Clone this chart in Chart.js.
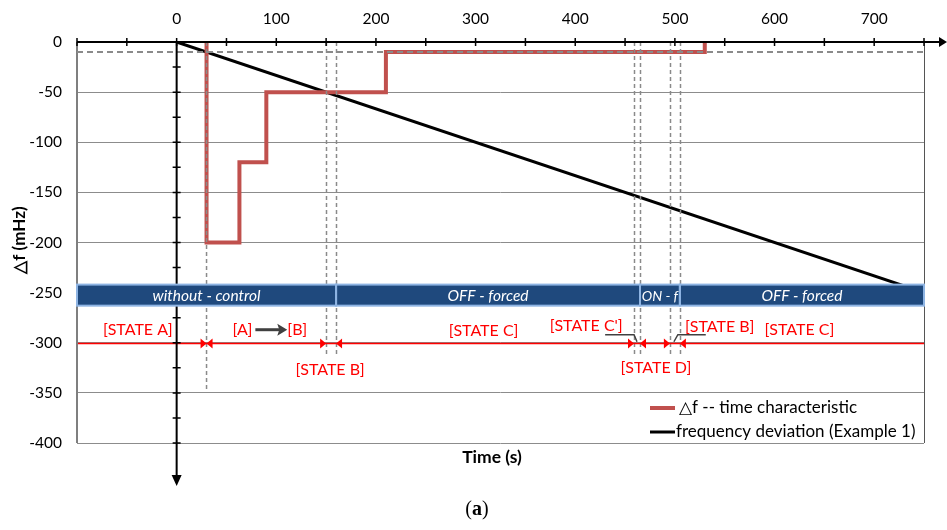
<!DOCTYPE html>
<html>
<head>
  <meta charset="UTF-8" />
  <title>Frequency deviation</title>
  <script src="https://cdn.jsdelivr.net/npm/chart.js"></script>
  <style>
    body { margin: 0; background: #fff; }
    #wrap { width: 947px; height: 530px; }
  </style>
</head>
<body>
  <div id="wrap"><canvas id="chart" width="947" height="530"></canvas></div>

  <script>
    // step characteristic (stepped 'before': horizontal first, then vertical)
    const stepTime = [30, 30, 63, 90, 210, 530];
    const stepDf = [0, -200, -120, -50, -10, 0];

    // frequency deviation, Example 1
    const devTime = [0, 750];
    const devDf = [0, -250];

    const timeTicks = [0, 100, 200, 300, 400, 500, 600, 700];
    const dfTicks = [0, -50, -100, -150, -200, -250, -300, -350, -400];

    // mode bar
    const modeNames = ['without - control', 'OFF - forced', 'ON - f', 'OFF - forced'];
    const modeStart = [-100, 160, 465, 505];
    const modeEnd = [160, 465, 505, 750];

    // state boundaries (dashed) and arrow heads on the -300 line
    const boundaryTime = [150, 160, 459, 465, 495, 505];
    const arrowToRight = [30, 150, 459, 495];
    const arrowToLeft = [30, 160, 465, 505];

    const stateNames = ['[STATE A]', '[A]', '[B]', '[STATE B]', '[STATE C]', "[STATE C']", '[STATE D]', '[STATE B]', '[STATE C]'];
    const stateTime = [-39, 66, 121, 154, 308, 411, 481, 545, 625];
    const stateDf = [-287, -287, -287, -327, -288, -283, -325, -284, -287];

    const redColor = '#C0504D';
    const stateRed = '#FF0000';

    const decorations = {
      id: 'decorations',
      afterDatasetsDraw(chart) {
        const ctx = chart.ctx;
        const xs = chart.scales.x;
        const ys = chart.scales.y;
        const X = v => xs.getPixelForValue(v);
        const Y = v => ys.getPixelForValue(v);
        const area = chart.chartArea;

        ctx.save();

        // plot border
        ctx.strokeStyle = '#7f7f7f';
        ctx.lineWidth = 2;
        ctx.beginPath();
        ctx.moveTo(area.left, area.top);
        ctx.lineTo(area.left, area.bottom);
        ctx.stroke();
        ctx.strokeStyle = '#555';
        ctx.lineWidth = 1;
        ctx.beginPath();
        ctx.moveTo(area.right + 0.5, area.top);
        ctx.lineTo(area.right + 0.5, area.bottom);
        ctx.stroke();

        // dashed -10 line
        ctx.strokeStyle = '#8a8a8a';
        ctx.lineWidth = 2;
        ctx.setLineDash([6, 4]);
        ctx.beginPath();
        ctx.moveTo(area.left, Y(-10));
        ctx.lineTo(area.right, Y(-10));
        ctx.stroke();

        // vertical dashed boundaries
        ctx.lineWidth = 1.5;
        ctx.setLineDash([4, 3]);
        ctx.beginPath();
        ctx.moveTo(X(30), Y(0));
        ctx.lineTo(X(30), Y(-348));
        boundaryTime.forEach(t => {
          ctx.moveTo(Math.round(X(t)) + 0.5, Y(0));
          ctx.lineTo(Math.round(X(t)) + 0.5, Y(-314));
        });
        ctx.stroke();
        ctx.setLineDash([]);

        // red state line at -300 (covers the grid line)
        ctx.strokeStyle = stateRed;
        ctx.lineWidth = 1.5;
        ctx.beginPath();
        ctx.moveTo(area.left + 1, Math.round(Y(-300)) + 0.5);
        ctx.lineTo(area.right, Math.round(Y(-300)) + 0.5);
        ctx.stroke();

        // black axes
        ctx.strokeStyle = '#000';
        ctx.fillStyle = '#000';
        ctx.lineWidth = 2;
        const y0 = Y(0);
        const x0 = X(0);
        ctx.beginPath();
        ctx.moveTo(area.left, y0);
        ctx.lineTo(940, y0);
        ctx.moveTo(x0, y0);
        ctx.lineTo(x0, 476);
        ctx.stroke();
        ctx.lineWidth = 1.5;
        ctx.beginPath();
        for (let t = -100; t <= 750; t += 50) {
          ctx.moveTo(X(t), y0 - 4);
          ctx.lineTo(X(t), y0 + 4);
        }
        for (let d = -25; d >= -400; d -= 25) {
          ctx.moveTo(x0 - 4, Y(d));
          ctx.lineTo(x0 + 4, Y(d));
        }
        ctx.stroke();
        ctx.beginPath();
        ctx.moveTo(947, y0);
        ctx.lineTo(939, y0 - 5);
        ctx.lineTo(939, y0 + 5);
        ctx.closePath();
        ctx.fill();
        ctx.beginPath();
        ctx.moveTo(x0, 486);
        ctx.lineTo(x0 - 5, 475);
        ctx.lineTo(x0 + 5, 475);
        ctx.closePath();
        ctx.fill();

        // mode bar
        const barTop = Y(-242);
        const barBottom = Y(-263);
        ctx.fillStyle = '#1F497D';
        ctx.fillRect(area.left, barTop, area.right - area.left, barBottom - barTop);
        ctx.strokeStyle = '#8EB4E3';
        ctx.lineWidth = 2;
        modeNames.forEach((name, i) => {
          ctx.strokeRect(X(modeStart[i]), barTop, X(modeEnd[i]) - X(modeStart[i]), barBottom - barTop);
        });
        ctx.fillStyle = '#fff';
        ctx.textAlign = 'center';
        ctx.textBaseline = 'middle';
        modeNames.forEach((name, i) => {
          ctx.font = 'italic ' + (i === 2 ? 14 : 15.5) + 'px Lato';
          ctx.fillText(name, (X(modeStart[i]) + X(modeEnd[i])) / 2, (barTop + barBottom) / 2 + 1);
        });

        // arrow heads
        ctx.fillStyle = stateRed;
        const yr = Math.round(Y(-300)) + 0.5;
        arrowToRight.forEach(t => {
          const px = X(t);
          ctx.beginPath();
          ctx.moveTo(px, yr);
          ctx.lineTo(px - 6, yr - 5);
          ctx.lineTo(px - 6, yr + 5);
          ctx.closePath();
          ctx.fill();
        });
        arrowToLeft.forEach(t => {
          const px = X(t);
          ctx.beginPath();
          ctx.moveTo(px, yr);
          ctx.lineTo(px + 6, yr - 5);
          ctx.lineTo(px + 6, yr + 5);
          ctx.closePath();
          ctx.fill();
        });

        // leader lines and [A]->[B] arrow
        ctx.strokeStyle = '#404040';
        ctx.lineWidth = 1.5;
        ctx.beginPath();
        ctx.moveTo(X(430), Y(-292));
        ctx.lineTo(X(459), Y(-292));
        ctx.lineTo(X(462), Y(-299));
        ctx.moveTo(X(499), Y(-299));
        ctx.lineTo(X(503), Y(-292));
        ctx.lineTo(X(531), Y(-292));
        ctx.stroke();
        ctx.lineWidth = 3;
        ctx.beginPath();
        ctx.moveTo(X(79), Y(-287));
        ctx.lineTo(X(104), Y(-287));
        ctx.stroke();
        ctx.beginPath();
        ctx.moveTo(X(111), Y(-287));
        ctx.lineTo(X(101), Y(-281));
        ctx.lineTo(X(103), Y(-287));
        ctx.lineTo(X(101), Y(-293));
        ctx.closePath();
        ctx.fillStyle = '#404040';
        ctx.fill();

        // state labels
        ctx.fillStyle = stateRed;
        ctx.font = '16px Lato';
        stateNames.forEach((s, i) => {
          ctx.fillText(s, X(stateTime[i]), Y(stateDf[i]));
        });

        // legend
        const ds = chart.data.datasets;
        ctx.font = '17px Lato';
        ctx.textAlign = 'left';
        ctx.lineWidth = 4;
        ctx.strokeStyle = ds[0].borderColor;
        ctx.beginPath();
        ctx.moveTo(650, 408);
        ctx.lineTo(675, 408);
        ctx.stroke();
        ctx.fillStyle = '#000';
        ctx.fillText(ds[0].label, 679, 408);
        ctx.lineWidth = 3;
        ctx.strokeStyle = ds[1].borderColor;
        ctx.beginPath();
        ctx.moveTo(650, 432);
        ctx.lineTo(675, 432);
        ctx.stroke();
        ctx.fillText(ds[1].label, 676, 432);

        // titles
        ctx.font = 'bold 17.5px Lato';
        ctx.textAlign = 'center';
        ctx.fillText('Time (s)', 492, 457);
        ctx.save();
        ctx.translate(20, 240);
        ctx.rotate(-Math.PI / 2);
        ctx.font = 'bold 17px Lato';
        ctx.fillText('\u25B3f (mHz)', 0, 0);
        ctx.restore();

        // "(a)" with a bold letter
        const reg = '20px "Liberation Serif"';
        const bold = 'bold 20px "Liberation Serif"';
        ctx.textAlign = 'left';
        ctx.font = reg;
        const w1 = ctx.measureText('(').width;
        const w3 = ctx.measureText(')').width;
        ctx.font = bold;
        const w2 = ctx.measureText('a').width;
        let sx = 477 - (w1 + w2 + w3) / 2;
        ctx.font = reg;
        ctx.fillText('(', sx, 510);
        ctx.font = bold;
        ctx.fillText('a', sx + w1, 510);
        ctx.font = reg;
        ctx.fillText(')', sx + w1 + w2, 510);

        ctx.restore();
      }
    };

    new Chart(document.getElementById('chart'), {
      type: 'line',
      data: {
        datasets: [
          {
            label: '\u25B3f -- time characteristic',
            data: stepTime.map((t, i) => ({ x: t, y: stepDf[i] })),
            borderColor: redColor,
            borderWidth: 4,
            stepped: 'before',
            pointRadius: 0,
            fill: false
          },
          {
            label: 'frequency deviation (Example 1)',
            data: devTime.map((t, i) => ({ x: t, y: devDf[i] })),
            borderColor: '#000000',
            borderWidth: 3,
            pointRadius: 0,
            fill: false
          }
        ]
      },
      options: {
        responsive: false,
        animation: false,
        layout: { padding: { left: 0, top: 0, right: 23, bottom: 87 } },
        plugins: {
          legend: { display: false },
          tooltip: { enabled: false }
        },
        scales: {
          x: {
            type: 'linear',
            position: 'top',
            min: -100,
            max: 750,
            afterBuildTicks: axis => { axis.ticks = timeTicks.map(v => ({ value: v })); },
            afterFit: axis => { axis.height = 42; },
            grid: { display: false },
            border: { display: false },
            ticks: { color: '#000', font: { family: 'Lato', size: 15.5 }, padding: 6, maxRotation: 0 }
          },
          y: {
            type: 'linear',
            min: -400,
            max: 0,
            afterBuildTicks: axis => { axis.ticks = dfTicks.map(v => ({ value: v })); },
            afterFit: axis => { axis.width = 77; },
            grid: { color: '#8c8c8c', lineWidth: 1, drawTicks: false },
            border: { display: false },
            ticks: { color: '#000', font: { family: 'Lato', size: 15.5 }, padding: 15 }
          }
        }
      },
      plugins: [decorations]
    });
  </script>
</body>
</html>
